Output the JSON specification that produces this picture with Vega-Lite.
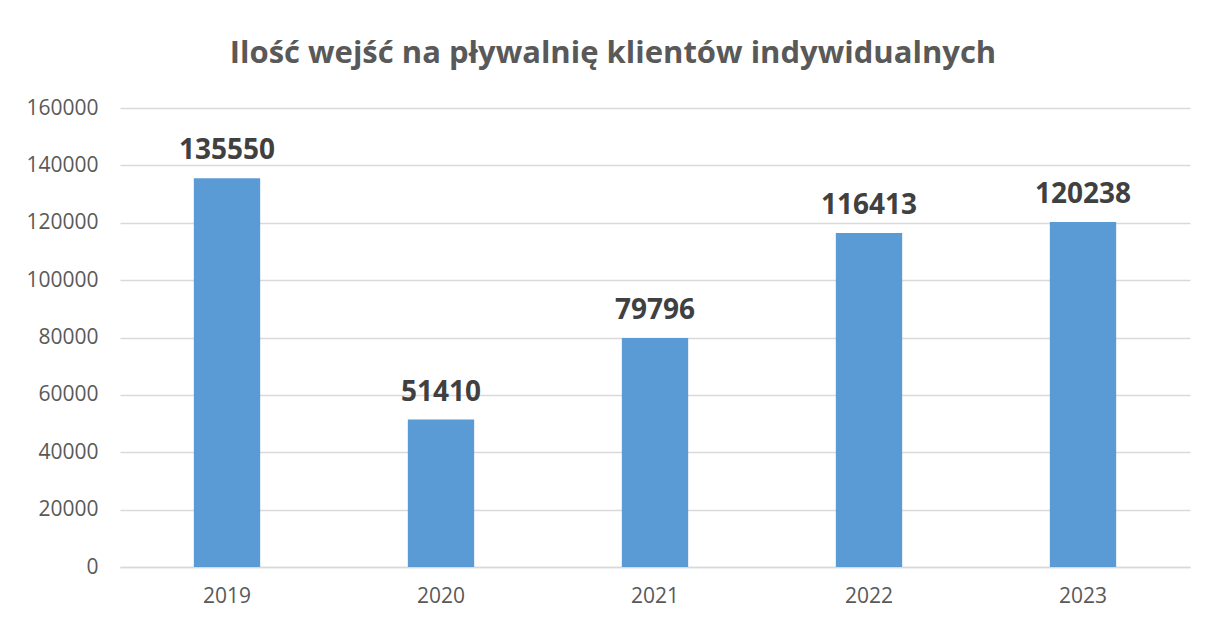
{
  "$schema": "https://vega.github.io/schema/vega-lite/v6.json",
  "width": 1070,
  "height": 459,
  "autosize": {"type": "none"},
  "padding": {"left": 120, "top": 108, "right": 29, "bottom": 56},
  "background": "white",
  "title": {
    "text": "Ilość wejść na pływalnię klientów indywidualnych",
    "font": "Open Sans",
    "fontSize": 31,
    "fontWeight": "bold",
    "color": "#595959",
    "anchor": "middle",
    "frame": "bounds",
    "offset": 27,
    "dx": 5
  },
  "data": {
    "values": [
      {"rok": "2019", "wejscia": 135550},
      {"rok": "2020", "wejscia": 51410},
      {"rok": "2021", "wejscia": 79796},
      {"rok": "2022", "wejscia": 116413},
      {"rok": "2023", "wejscia": 120238}
    ]
  },
  "encoding": {
    "x": {
      "field": "rok",
      "type": "nominal",
      "sort": null,
      "scale": {"paddingInner": 0.69, "paddingOuter": 0.345},
      "axis": {
        "title": null,
        "labelAngle": 0,
        "labelFont": "Open Sans",
        "labelFontSize": 21,
        "labelColor": "#595959",
        "labelPadding": 18,
        "ticks": false,
        "domainColor": "#d9d9d9",
        "domainWidth": 1.5,
        "grid": false
      }
    },
    "y": {
      "field": "wejscia",
      "type": "quantitative",
      "scale": {"domain": [0, 160000], "nice": false},
      "axis": {
        "title": null,
        "values": [0, 20000, 40000, 60000, 80000, 100000, 120000, 140000, 160000],
        "format": "d",
        "labelFont": "Open Sans",
        "labelFontSize": 21,
        "labelColor": "#595959",
        "labelPadding": 22,
        "ticks": false,
        "domain": false,
        "grid": true,
        "gridColor": "#d9d9d9",
        "gridWidth": 1.5
      }
    }
  },
  "layer": [
    {"mark": {"type": "bar", "color": "#5b9bd5"}},
    {
      "mark": {
        "type": "text",
        "baseline": "bottom",
        "dy": -13,
        "font": "Open Sans",
        "fontSize": 28,
        "fontWeight": "bold",
        "color": "#404040"
      },
      "encoding": {"text": {"field": "wejscia", "type": "quantitative", "format": "d"}}
    }
  ],
  "config": {"view": {"stroke": null}}
}
